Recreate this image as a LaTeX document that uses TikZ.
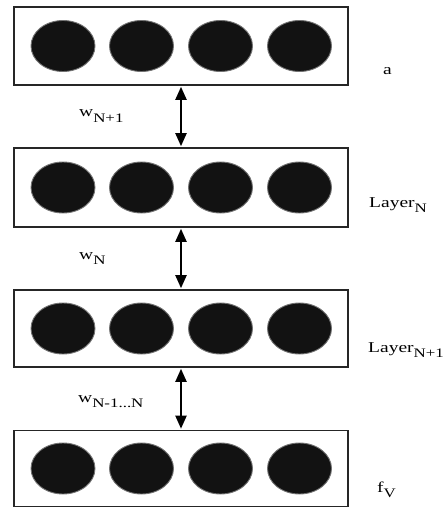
\documentclass[tikz,border=0pt]{standalone}
\usepackage{fontspec}
\newfontfamily\lbl[FakeStretch=1.3]{Liberation Serif}
\usetikzlibrary{arrows.meta,shapes.geometric}
\newcommand{\lsub}[1]{\raisebox{-5.5pt}{\fontsize{13}{14}\selectfont #1}}
\tikzset{
  layerbox/.style={draw=black!85, line width=1.8pt, minimum width=334pt, inner sep=0pt},
  neuron/.style={ellipse, fill=black!93, draw=black!55, line width=0.9pt, minimum width=64pt, minimum height=51pt, inner sep=0pt},
  link/.style={line width=2pt, {Triangle[length=13pt,width=11pt]}-{Triangle[length=13pt,width=11pt]}, shorten <=0.9pt, shorten >=0.9pt},
  lab/.style={anchor=base west, inner sep=0pt, font=\lbl\fontsize{15}{17}\selectfont}
}
\begin{document}
\begin{tikzpicture}[x=1pt,y=-1pt]
\useasboundingbox (0,0) rectangle (443,508);
\node[layerbox, minimum height=78pt] (b1) at (181,46) {};
\node[layerbox, minimum height=79pt] (b2) at (181,187.5) {};
\node[layerbox, minimum height=77pt] (b3) at (181,328.5) {};
\node[layerbox, minimum height=76pt] (b4) at (181,468.5) {};
\foreach \r/\y in {1/46,2/187.5,3/328.5,4/468.5}{
  \foreach \c/\x in {1/63,2/141.5,3/220.5,4/299.5}{
    \node[neuron] (n\r\c) at (\x,\y) {};
  }
}
\draw[link] (b1.south) -- (b2.north);
\draw[link] (b2.south) -- (b3.north);
\draw[link] (b3.south) -- (b4.north);
\node[lab] (la) at (383,75) {a};
\node[lab] (lb) at (369,207) {Layer\lsub{N}};
\node[lab] (lc) at (368,352) {Layer\lsub{N+1}};
\node[lab] (ld) at (377,492) {f\lsub{V}};
\node[lab] (wa) at (79,117) {w\lsub{N+1}};
\node[lab] (wb) at (79,259) {w\lsub{N}};
\node[lab] (wc) at (78,402) {w\lsub{N-1...N}};
\end{tikzpicture}
\end{document}
